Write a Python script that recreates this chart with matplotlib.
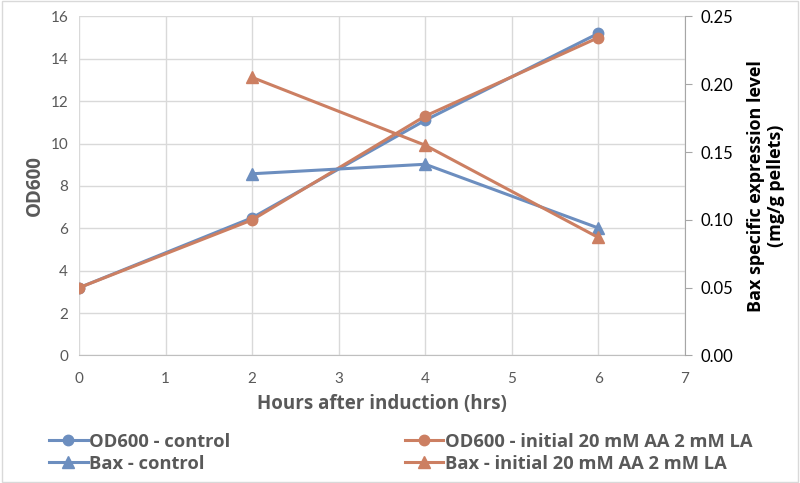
import matplotlib
matplotlib.use("Agg")
import matplotlib.pyplot as plt
from matplotlib.patches import Rectangle

hours_od = [0, 2, 4, 6]
od_control = [3.2, 6.5, 11.1, 15.2]
od_la = [3.2, 6.4, 11.3, 15.0]

hours_bax = [2, 4, 6]
bax_control = [0.134, 0.141, 0.094]
bax_la = [0.205, 0.155, 0.087]

blue = "#6C8EBF"
orange = "#CC7F62"
grey = "#595959"
grid = "#D9D9D9"

plt.rcParams['font.family'] = ['Lato', 'DejaVu Sans']
bold_font = ['Open Sans', 'DejaVu Sans']

fig = plt.figure(figsize=(8, 4.83), dpi=100)
ax = fig.add_axes([0.099, 0.264, 0.757, 0.702])
ax2 = ax.twinx()

l1, = ax.plot(hours_od, od_control, color=blue, lw=2.2, marker='o', ms=7.5,
              label='OD600 - control')
l3, = ax.plot(hours_od, od_la, color=orange, lw=2.2, marker='o', ms=7.5,
              label='OD600 - initial 20 mM AA 2 mM LA')
l2, = ax2.plot(hours_bax, bax_control, color=blue, lw=2.2, marker='^', ms=8,
               label='Bax - control')
l4, = ax2.plot(hours_bax, bax_la, color=orange, lw=2.2, marker='^', ms=8,
               label='Bax - initial 20 mM AA 2 mM LA')

ax.set_xlim(0, 7)
ax.set_ylim(0, 16)
ax.set_yticks(range(0, 17, 2))
ax.set_xticks(range(0, 8))
ax2.set_ylim(0, 0.25)
ax2.set_yticks([0, 0.05, 0.10, 0.15, 0.20, 0.25])
ax2.set_yticklabels(["0.00", "0.05", "0.10", "0.15", "0.20", "0.25"])

ax.grid(True, color=grid, lw=1)
ax.set_axisbelow(True)
for s in ['top', 'right', 'left']:
    ax.spines[s].set_visible(False)
ax.spines['bottom'].set_color("#BFBFBF")
for s in ['top', 'left', 'bottom']:
    ax2.spines[s].set_visible(False)
ax2.spines['right'].set_color("#A6A6A6")

ax.tick_params(axis='both', length=0, labelsize=11, labelcolor=grey, pad=8)
ax.tick_params(axis='x', pad=12)
ax2.tick_params(axis='y', length=5, color="#A6A6A6", labelsize=12, labelcolor="black", pad=6)

ax.set_xlabel("Hours after induction (hrs)", fontsize=13.5, fontweight='bold', color=grey,
              labelpad=6, family=bold_font)
ax.set_ylabel("OD600", fontsize=13.5, fontweight='bold', color=grey, labelpad=4,
              family=bold_font)
ax2.set_ylabel("Bax specific expression level\n(mg/g pellets)", fontsize=13,
               fontweight='bold', color="black", labelpad=10, family=bold_font,
               linespacing=1.15)

leg = fig.legend(handles=[l1, l2, l3, l4], loc='lower left', bbox_to_anchor=(0.043, -0.009),
                 ncol=2, frameon=False, columnspacing=9.5, handlelength=2.1,
                 handletextpad=0.1, labelspacing=0.22, borderpad=0.3,
                 prop={'weight': 'bold', 'size': 13.2, 'family': bold_font})
for t in leg.get_texts():
    t.set_color(grey)

fig.patches.append(Rectangle((0.002, 0.003), 0.996, 0.994, transform=fig.transFigure,
                             fill=False, edgecolor="#D9D9D9", lw=1))

fig.savefig("out.png", dpi=100)
